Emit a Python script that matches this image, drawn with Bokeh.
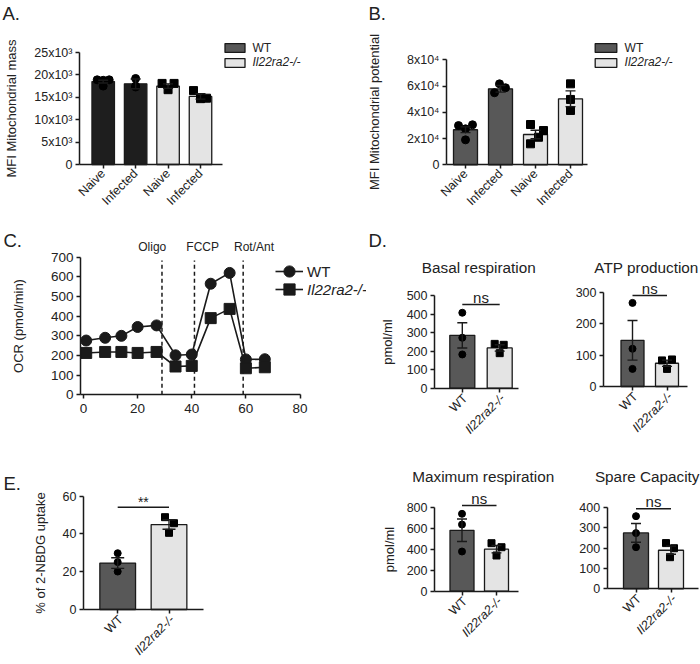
from math import pi
from bokeh.plotting import figure
from bokeh.models import (ColumnDataSource, FixedTicker, Range1d, Whisker, TeeHead,
                          Label, Legend, LegendItem)
from bokeh.layouts import row, column
from bokeh.embed import file_html
from bokeh.resources import INLINE

FONT = "Liberation Sans"
INK = "#1a1a1a"
TXT = "#222222"
WT_DARK = "#585858"
WT_BLACK = "#1e1e1e"
KO_LIGHT = "#e4e4e4"

# ---------------- data ----------------
# A. MFI mitochondrial mass
a_cats = ["Naive", "Infected", "Naive", "Infected"]
a_geno = ["WT", "WT", "KO", "KO"]
a_mean = [18500, 18000, 17500, 15200]
a_sem = [300, 1100, 500, 600]
a_pts = [[18900, 18800, 18900, 17500], [19200, 17500, 17300],
         [18100, 18100, 16700], [16500, 14700, 14800]]
a_yticks = [0, 5000, 10000, 15000, 20000, 25000]
a_ylabels = ["0", "5x10³", "10x10³", "15x10³", "20x10³", "25x10³"]

# B. MFI mitochondrial potential
b_cats = ["Naive", "Infected", "Naive", "Infected"]
b_geno = ["WT", "WT", "KO", "KO"]
b_mean = [26700, 57900, 23100, 50300]
b_sem = [2200, 2500, 3200, 6000]
b_pts = [[29900, 30500, 27400, 19000], [54900, 61700, 58700],
         [30700, 26100, 21000, 16000], [61700, 49800, 41400]]
b_yticks = [0, 20000, 40000, 60000, 80000]
b_ylabels = ["0", "2x10⁴", "4x10⁴", "6x10⁴", "8x10⁴"]

# C. OCR time course
c_time = [1, 8, 14, 20, 27, 34, 40, 47, 54, 60, 67]
c_wt = [276, 290, 300, 345, 353, 201, 205, 565, 620, 180, 181]
c_ko = [213, 218, 218, 213, 218, 144, 147, 390, 437, 135, 140]
c_inj_time = [29, 41, 59]
c_inj_names = ["Oligo", "FCCP", "Rot/Ant"]
c_xticks = [0, 20, 40, 60, 80]
c_yticks = [0, 100, 200, 300, 400, 500, 600, 700]

# D. Seahorse parameters
d_groups = ["WT", "Il22ra2-/-"]
basal_mean = [285, 217]
basal_sem = [68, 17]
basal_pts = [[407, 272, 182], [239, 234, 189]]
atp_mean = [147, 74]
atp_sem = [63, 10]
atp_pts = [[266, 120, 56], [83, 86, 56]]
max_mean = [580, 400]
max_sem = [107, 35]
max_pts = [[737, 635, 378], [457, 419, 340]]
spare_mean = [274, 189]
spare_sem = [46, 20]
spare_pts = [[356, 273, 204], [224, 199, 155]]

# E. 2-NBDG uptake
e_groups = ["WT", "Il22ra2-/-"]
e_mean = [24.6, 45.0]
e_sem = [2.8, 2.5]
e_pts = [[29.8, 25.1, 20.1], [48.9, 45.7, 40.6]]


# ---------------- geometry helpers (page pixels <-> data) ----------------
class Geo:
    def __init__(self, cx0, cy0, w, h, xa, ya):
        self.cx0, self.cy0, self.w, self.h = cx0, cy0, w, h
        px1, v1, px2, v2 = xa
        self.kx = (v2 - v1) / (px2 - px1)
        self.xp, self.xv = px1, v1
        py1, u1, py2, u2 = ya
        self.ky = (u2 - u1) / (py2 - py1)
        self.yp, self.yv = py1, u1

    def X(self, px):
        return self.xv + (px - self.xp) * self.kx

    def Y(self, py):
        return self.yv + (py - self.yp) * self.ky

    def px_of(self, v):
        return self.xp + (v - self.xv) / self.kx

    def py_of(self, v):
        return self.yp + (v - self.yv) / self.ky


def make_fig(g, yaxis_px, xbounds_px, ybounds, xticks, yticks):
    p = figure(width=g.w, height=g.h, title=None,
               x_range=Range1d(g.X(g.cx0), g.X(g.cx0 + g.w)),
               y_range=Range1d(g.Y(g.cy0 + g.h), g.Y(g.cy0)),
               output_backend="svg", toolbar_location=None,
               min_border=0, min_border_left=0, min_border_right=0,
               min_border_top=0, min_border_bottom=0)
    try:
        p.frame_align = False
    except Exception:
        pass
    p.outline_line_color = None
    p.xgrid.visible = False
    p.ygrid.visible = False
    xa, ya = p.xaxis[0], p.yaxis[0]
    xa.fixed_location = 0
    xa.bounds = (g.X(xbounds_px[0]), g.X(xbounds_px[1]))
    ya.fixed_location = g.X(yaxis_px)
    ya.bounds = ybounds
    xa.ticker = FixedTicker(ticks=xticks, minor_ticks=[])
    ya.ticker = FixedTicker(ticks=yticks, minor_ticks=[])
    for ax in (xa, ya):
        ax.axis_line_width = 1.5
        ax.axis_line_color = INK
        ax.major_tick_line_width = 1.5
        ax.major_tick_line_color = INK
        ax.major_tick_in = 0
        ax.major_tick_out = 4
        ax.minor_tick_line_color = None
        ax.major_label_text_font = FONT
        ax.major_label_text_font_size = "12.5px"
        ax.major_label_text_color = TXT
        ax.major_label_standoff = 3
        ax.axis_label_text_font = FONT
        ax.axis_label_text_font_style = "normal"
        ax.axis_label_text_font_size = "13px"
        ax.axis_label_text_color = TXT
    return p


def txt(p, g, px, py, text, size, align="left", italic=False):
    # py = visual (cap) centre of the text in page pixels
    p.add_layout(Label(x=g.X(px), y=g.Y(py), text=text,
                       text_align=align, text_baseline="middle",
                       text_font=FONT, text_font_size=size, text_color=TXT,
                       text_font_style="italic" if italic else "normal"))


def bars(p, g, means, sems, pts, offsets_px, colors, markers, bar_px, msize, cap):
    xs = list(range(1, len(means) + 1))
    src = ColumnDataSource(dict(x=xs, top=means, color=colors))
    r = p.vbar(x="x", top="top", bottom=0, width=bar_px * g.kx, source=src,
               fill_color="color", line_color=INK, line_width=1.3)
    px, py, pm = [], [], []
    for i, vals in enumerate(pts):
        for j, v in enumerate(vals):
            px.append(xs[i] + offsets_px[i][j] * g.kx)
            py.append(v)
            pm.append(markers[i])
    p.scatter(x="x", y="y", marker="m", size=msize,
              source=ColumnDataSource(dict(x=px, y=py, m=pm)),
              fill_color="black", line_color="black")
    wsrc = ColumnDataSource(dict(base=xs, lower=[m - s for m, s in zip(means, sems)],
                                 upper=[m + s for m, s in zip(means, sems)]))
    p.add_layout(Whisker(source=wsrc, base="base", lower="lower", upper="upper",
                         line_color=INK, line_width=1.4, level="overlay",
                         upper_head=TeeHead(size=cap, line_color=INK, line_width=1.4),
                         lower_head=TeeHead(size=cap, line_color=INK, line_width=1.4)))
    return r


def cat_labels(p, g, names):
    axis_py = g.py_of(0)
    for i, name in enumerate(names):
        p.add_layout(Label(x=i + 1 + 3 * g.kx, y=g.Y(axis_py + 8), text=name,
                           angle=pi / 4, angle_units="rad",
                           text_align="right", text_baseline="middle",
                           text_font=FONT, text_font_size="12.5px", text_color=TXT,
                           text_font_style="italic" if name != "WT" else "normal"))


def bracket(p, g, line_py, text, size, lift):
    yb = g.Y(line_py)
    p.segment(x0=[1], x1=[2], y0=[yb], y1=[yb], line_color=INK, line_width=1.4)
    p.add_layout(Label(x=1.5, y=g.Y(line_py - lift), text=text, text_align="center",
                       text_baseline="middle", text_font=FONT, text_font_size=size,
                       text_color=TXT))


def legend(p, g, item, italic, left_px, bottom_px, gw, gh, fs, standoff):
    p.add_layout(Legend(items=[item],
                        location=(left_px - g.cx0, g.cy0 + g.h - bottom_px),
                        padding=0, margin=0, spacing=0, glyph_width=gw, glyph_height=gh,
                        label_standoff=standoff, label_height=gh, label_width=10,
                        label_text_font=FONT, label_text_font_size=fs,
                        label_text_font_style="italic" if italic else "normal",
                        label_text_color=TXT, border_line_color=None,
                        background_fill_alpha=0, inactive_fill_alpha=0))


LETTER = "18.5px"

# ---------------- Panel A ----------------
gA = Geo(0, 0, 350, 228, (102.7, 1, 200, 4), (164, 0, 52, 25000))
pA = make_fig(gA, 79, (79, 222), (0, 25000), [1, 2, 3, 4], a_yticks)
pA.yaxis[0].major_label_overrides = dict(zip(a_yticks, a_ylabels))
pA.xaxis[0].major_label_overrides = dict(zip([1, 2, 3, 4], a_cats))
pA.xaxis[0].major_label_orientation = pi / 4
pA.yaxis[0].axis_label = "MFI Mitochondrial mass"
pA.yaxis[0].axis_label_standoff = 12
rA = bars(pA, gA, a_mean, a_sem, a_pts, [[-6, 0, 6, 0], [0, 0, 0], [-6, 6, 0], [-7, 0, 6]],
          [WT_BLACK, WT_BLACK, KO_LIGHT, KO_LIGHT],
          ["circle" if k == "WT" else "square" for k in a_geno], 22.5, 8, 10)
# legend swatch for WT uses the dark-grey key colour (hidden twin of the first WT bar)
rA_key = pA.vbar(x=[1], top=[a_mean[0]], width=0.5, fill_color=WT_DARK, line_color=INK,
                 line_width=1.3, visible=False)
legend(pA, gA, LegendItem(label="WT", renderers=[rA_key]), False, 221.5, 54.5, 25, 11, "12px", 6)
legend(pA, gA, LegendItem(label="Il22ra2-/-", renderers=[rA], index=2), True, 221.5, 69, 25, 11,
       "12px", 6)
txt(pA, gA, 2, 13.3, "A.", LETTER)

# ---------------- Panel B ----------------
gB = Geo(350, 0, 350, 228, (465, 1, 570, 4), (164.3, 0, 59.3, 80000))
pB = make_fig(gB, 446, (446, 587), (0, 80000), [1, 2, 3, 4], b_yticks)
pB.yaxis[0].major_label_overrides = dict(zip(b_yticks, b_ylabels))
pB.xaxis[0].major_label_overrides = dict(zip([1, 2, 3, 4], b_cats))
pB.xaxis[0].major_label_orientation = pi / 4
pB.yaxis[0].axis_label = "MFI Mitochondrial potential"
pB.yaxis[0].axis_label_standoff = 22
rB = bars(pB, gB, b_mean, b_sem, b_pts, [[-7, 7, 0, 0], [-6, -1, 5], [-5, 8, 3, -5], [0, 0, 0]],
          [WT_DARK, WT_DARK, KO_LIGHT, KO_LIGHT],
          ["circle" if k == "WT" else "square" for k in b_geno], 24, 8, 10)
legend(pB, gB, LegendItem(label="WT", renderers=[rB], index=0), False, 591.6, 54.5, 27, 11,
       "12px", 6)
legend(pB, gB, LegendItem(label="Il22ra2-/-", renderers=[rB], index=2), True, 591.6, 69, 27, 11,
       "12px", 6)
txt(pB, gB, 368, 12.5, "B.", LETTER)

# ---------------- Panel C ----------------
gC = Geo(0, 228, 366, 214, (83, 0, 299.5, 80), (394.3, 0, 256.7, 700))
pC = make_fig(gC, 80, (80, 299.5), (0, 700), c_xticks, c_yticks)
pC.xaxis[0].bounds = (gC.X(80), 80)
pC.xaxis[0].major_label_text_font_size = "13.5px"
pC.yaxis[0].major_label_text_font_size = "13.5px"
pC.xaxis[0].major_label_standoff = 5
pC.yaxis[0].axis_label = "OCR (pmol/min)"
pC.yaxis[0].axis_label_standoff = 22
top_dash = gC.Y(260)
pC.segment(x0=c_inj_time, x1=c_inj_time, y0=[0] * len(c_inj_time),
           y1=[top_dash] * len(c_inj_time),
           line_color=INK, line_width=1.5, line_dash="4 3")
for t, name, dx in zip(c_inj_time, c_inj_names, [-9.7, 8.2, 10.8]):
    txt(pC, gC, gC.px_of(t) + dx, 246.7, name, "12px", align="center")
lw = pC.line(c_time, c_wt, line_color=INK, line_width=1.6)
sw = pC.scatter(c_time, c_wt, marker="circle", size=11, fill_color=INK, line_color=INK)
lk = pC.line(c_time, c_ko, line_color=INK, line_width=1.6)
sk = pC.scatter(c_time, c_ko, marker="square", size=11, fill_color=INK, line_color=INK)
legend(pC, gC, LegendItem(label="WT", renderers=[lw, sw]), False, 275, 285, 28, 28, "15px", 4)
legend(pC, gC, LegendItem(label="Il22ra2-/-", renderers=[lk, sk]), True, 275, 303, 28, 28,
       "15px", 4)
txt(pC, gC, 3, 240, "C.", LETTER)


# ---------------- Panel D ----------------
def d_panel(g, yaxis_px, xb, ymax, yt, mean, sem, pts, offs, bar_px, name, title_px,
            line_py, ylabel_standoff):
    p = make_fig(g, yaxis_px, xb, (0, ymax), [1, 2], yt)
    p.xaxis[0].major_label_overrides = {1: "", 2: ""}
    bars(p, g, mean, sem, pts, offs, [WT_DARK, KO_LIGHT], ["circle", "square"], bar_px, 7, 10)
    cat_labels(p, g, d_groups)
    bracket(p, g, line_py, "ns", "15px", 7)
    txt(p, g, title_px[0], title_px[1], name, "15.3px", align="center")
    if ylabel_standoff is not None:
        p.yaxis[0].axis_label = "pmol/ml"
        p.yaxis[0].axis_label_standoff = ylabel_standoff
    return p


gBa = Geo(366, 228, 199, 214, (461.8, 1, 499.2, 2), (387.7, 0, 295, 500))
pBasal = d_panel(gBa, 434, (434, 518), 500, [0, 100, 200, 300, 400, 500],
                 basal_mean, basal_sem, basal_pts, [[0, 0, 0], [-5, 4, 0]], 25,
                 "Basal respiration", (478.3, 267), 304, 9)
txt(pBasal, gBa, 368, 240, "D.", LETTER)

gAt = Geo(565, 228, 135, 214, (632, 1, 666.5, 2), (386, 0, 291.7, 300))
pATP = d_panel(gAt, 603, (603, 687), 300, [0, 100, 200, 300],
               atp_mean, atp_sem, atp_pts, [[0, 0, 0], [-5, 5, 0]], 23,
               "ATP production", (646, 267), 295, None)

gMx = Geo(366, 442, 199, 222, (461.5, 1, 496, 2), (590.7, 0, 506.7, 800))
pMax = d_panel(gMx, 434, (434, 518), 800, [0, 200, 400, 600, 800],
               max_mean, max_sem, max_pts, [[0, 0, 0], [-5, 5, 0]], 24,
               "Maximum respiration", (482.8, 476), 505, 7)

gSp = Geo(565, 442, 135, 222, (635.5, 1, 670.5, 2), (588.3, 0, 506.7, 400))
pSpare = d_panel(gSp, 606.7, (606.7, 698), 400, [0, 100, 200, 300, 400],
                 spare_mean, spare_sem, spare_pts, [[0, 0, 0], [-5, 3, -1]], 25,
                 "Spare Capacity", (646.7, 476), 508.3, None)

# ---------------- Panel E ----------------
gE = Geo(0, 442, 366, 222, (117.2, 1, 168.5, 2), (609, 0, 495.7, 60))
pE = make_fig(gE, 83, (83, 203), (0, 60), [1, 2], [0, 20, 40, 60])
pE.xaxis[0].major_label_overrides = {1: "", 2: ""}
pE.yaxis[0].axis_label = "% of 2-NBDG uptake"
pE.yaxis[0].axis_label_standoff = 12
bars(pE, gE, e_mean, e_sem, e_pts, [[0, 0, 0], [-4, 5, 0]], [WT_DARK, KO_LIGHT],
     ["circle", "square"], 35.7, 7, 13)
cat_labels(pE, gE, e_groups)
bracket(pE, gE, 506.7, "**", "14px", 5.4)
txt(pE, gE, 3, 482.5, "E.", LETTER)

layout = column(row(pA, pB), row(pC, pBasal, pATP), row(pE, pMax, pSpare))
open("out.html", "w").write(file_html(layout, INLINE, "figure"))
